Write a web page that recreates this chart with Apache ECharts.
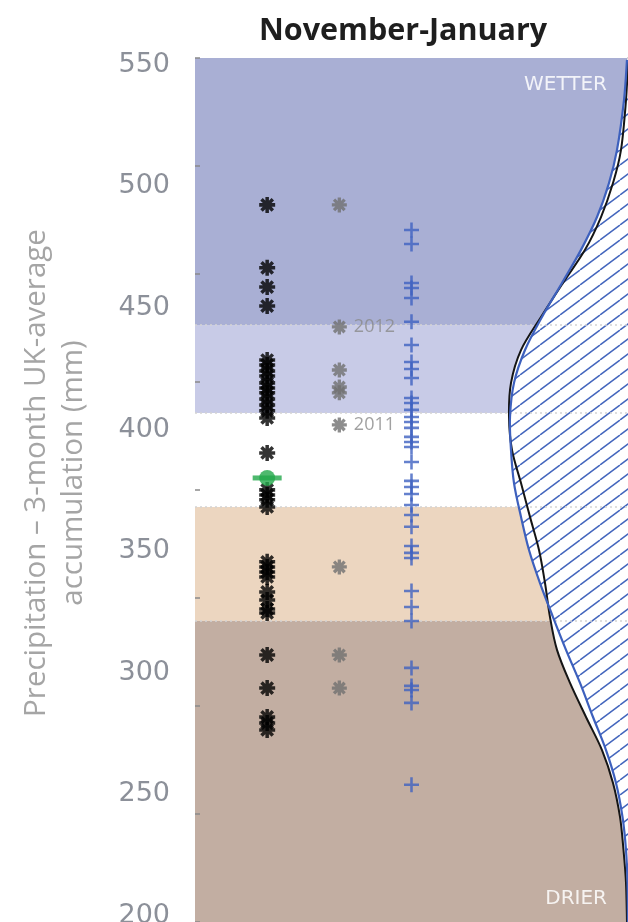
<!DOCTYPE html>
<html><head><meta charset="utf-8">
<script src="https://cdn.jsdelivr.net/npm/echarts@6/dist/echarts.min.js"></script>
<style>html,body{margin:0;padding:0;background:#fff}#c{width:628px;height:922px}</style>
</head><body><div id="c"></div>
<script>
const chartTitle = 'November-January';
const yAxisName = 'Precipitation – 3-month UK-average\naccumulation (mm)';
const columns = ['', 'Observed', 'Recent', 'Projected', '', '', ''];
const yTickLabels = [200, 250, 300, 350, 400, 450, 500, 550];
const yMin = 197.5, yMax = 552.8;
const bandEdges = [443.0, 406.8, 368.2, 321.3];
const bandLabels = ['WETTER', '', '', '', 'DRIER'];

const observed = [492.4, 466.5, 458.6, 450.8, 428.6, 426.6, 424.1, 422.0, 419.2, 417.1, 415.1, 412.6, 410.1, 407.7, 404.8, 390.4, 375.2, 373.1, 371.1, 368.2, 345.6, 343.5, 341.4, 339.4, 333.2, 329.9, 326.2, 324.6, 307.3, 293.7, 281.8, 279.3, 276.5];
const recent = [492.4, 442.2, 424.5, 417.5, 415.1, 401.9, 343.5, 307.3, 293.7];
const recentYears = ['', '2012', '', '', '', '2011', '', '', ''];
const projected = [482.1, 476.3, 460.3, 458.2, 454.1, 444.3, 434.8, 427.8, 424.9, 421.2, 413.0, 410.9, 408.1, 405.2, 403.1, 400.7, 397.0, 394.9, 392.8, 386.7, 378.9, 376.4, 373.5, 369.0, 364.9, 360.0, 352.1, 349.3, 347.2, 333.6, 327.0, 321.3, 302.0, 294.6, 292.9, 287.6, 253.9];
const current = [380.1];

const curveMm = [552.0, 535.5, 515.0, 501.4, 487.4, 473.9, 460.3, 446.3, 432.7, 419.2, 405.2, 391.6, 378.0, 364.1, 350.5, 336.9, 322.9, 309.4, 295.8, 281.8, 268.2, 254.7, 240.7, 227.1, 213.6, 197.5];
const densityBlue = [0.01, 0.04, 0.11, 0.19, 0.31, 0.47, 0.66, 0.86, 1.03, 1.14, 1.18, 1.17, 1.14, 1.07, 0.99, 0.88, 0.75, 0.62, 0.48, 0.35, 0.22, 0.12, 0.055, 0.02, 0.005, 0.0];
const densityBlack = [0.0, 0.02, 0.07, 0.15, 0.27, 0.43, 0.65, 0.87, 1.07, 1.17, 1.19, 1.16, 1.07, 0.98, 0.89, 0.83, 0.78, 0.71, 0.58, 0.42, 0.26, 0.15, 0.08, 0.045, 0.02, 0.01];

// ---- styling helpers ----
function barRect(angleDeg, len, wid) {
  const a = angleDeg * Math.PI / 180, c = Math.cos(a), s = Math.sin(a);
  const hl = len / 2, hw = wid / 2;
  const pts = [[-hl, -hw], [hl, -hw], [hl, hw], [-hl, hw]].map(p => [p[0] * c - p[1] * s, p[0] * s + p[1] * c]);
  return 'M' + pts.map(p => p[0].toFixed(3) + ',' + p[1].toFixed(3)).join(' L') + ' Z';
}
const asteriskPath = 'path://' + [0, 45, 90, 135].map(a => barRect(a, 1, 0.22)).join(' ');
const plusPath = 'path://' + [0, 90].map(a => barRect(a, 1, 0.17)).join(' ');

const hatch = document.createElement('canvas');
hatch.width = 20; hatch.height = 15;
(function () {
  const g = hatch.getContext('2d');
  g.strokeStyle = '#4466bd'; g.lineWidth = 1.5;
  [-20, 0, 20].forEach(dx => { g.beginPath(); g.moveTo(dx, 15); g.lineTo(dx + 20, 0); g.stroke(); });
})();

function smoothPath(pts) {
  let d = 'M' + pts[0][0] + ',' + pts[0][1];
  for (let i = 0; i < pts.length - 1; i++) {
    const p0 = pts[Math.max(0, i - 1)], p1 = pts[i], p2 = pts[i + 1], p3 = pts[Math.min(pts.length - 1, i + 2)];
    const c1 = [p1[0] + (p2[0] - p0[0]) / 6, p1[1] + (p2[1] - p0[1]) / 6];
    const c2 = [p2[0] - (p3[0] - p1[0]) / 6, p2[1] - (p3[1] - p1[1]) / 6];
    d += ' C' + c1[0] + ',' + c1[1] + ' ' + c2[0] + ',' + c2[1] + ' ' + p2[0] + ',' + p2[1];
  }
  return d;
}
function curvePixels(api, dens) { return curveMm.map((m, i) => api.coord([dens[i], m])); }
function areaPath(api, dens) {
  const pts = curvePixels(api, dens);
  const top = api.coord([0, yMax]), bot = api.coord([0, yMin]);
  return 'M' + top[0] + ',' + top[1] + ' L' + pts[0][0] + ',' + pts[0][1] + smoothPath(pts).replace(/^M[^ ]+/, '') +
    ' L' + bot[0] + ',' + bot[1] + ' Z';
}

const bandColors = ['#a9afd4', '#c8cbe7', '#ffffff', '#ecd6c0', '#c2aea2'];
const allEdges = [yMax].concat(bandEdges, [yMin]);
const bands = bandColors.map((col, i) => {
  const lab = bandLabels[i];
  const top = i === 0;
  return [{
    yAxis: allEdges[i], itemStyle: { color: col },
    label: lab ? {
      show: true, formatter: lab, position: top ? 'insideTopRight' : 'insideBottomRight',
      distance: 0, padding: top ? [17, 21, 0, 0] : [0, 21, 13, 0],
      color: 'rgba(255,255,255,0.85)', fontSize: 20, fontFamily: 'DejaVu Sans'
    } : { show: false }
  }, { yAxis: allEdges[i + 1] }];
});

const chart = echarts.init(document.getElementById('c'), null, { renderer: 'canvas' });
chart.setOption({
  animation: false,
  title: { text: chartTitle, left: 254, top: 11, textStyle: { fontFamily: 'Open Sans', fontWeight: 'bold', fontSize: 30.5, color: '#1e1e1e' } },
  grid: { left: 195, right: 0, top: 58, bottom: 0, containLabel: false, outerBoundsMode: 'none' },
  xAxis: [
    { type: 'category', data: columns, boundaryGap: false, show: false },
    { type: 'value', min: 0, max: 4.33, inverse: true, show: false, position: 'top' }
  ],
  yAxis: [
    {
      type: 'value', min: yMin, max: yMax, splitNumber: 7, position: 'left',
      axisLine: { show: true, lineStyle: { color: '#c6c6c6', width: 2 } },
      axisTick: { show: false }, splitLine: { show: false },
      axisLabel: {
        margin: 25, color: '#8c9099', fontSize: 27, fontFamily: 'DejaVu Sans',
        formatter: v => yTickLabels.indexOf(Math.round(v * 100) / 100) >= 0 ? String(v) : ''
      },
      name: yAxisName, nameLocation: 'middle', nameGap: 103,
      nameTextStyle: { fontFamily: 'Open Sans', fontSize: 29.5, color: '#a5a5a5', lineHeight: 37, align: 'center', padding: [0, 0, 0, 34] }
    },
    {
      type: 'value', min: 0, max: 8, interval: 1, position: 'left',
      axisLine: { show: false }, axisLabel: { show: false }, splitLine: { show: false },
      axisTick: { show: true, inside: true, length: 5, lineStyle: { color: '#8a8a8a', width: 1.5 } }
    }
  ],
  series: [
    {
      type: 'line', data: [], xAxisIndex: 0, yAxisIndex: 0, silent: true,
      markArea: { z: 0, silent: true, data: bands }
    },
    {
      type: 'custom', xAxisIndex: 1, yAxisIndex: 0, z: 2, silent: true, data: [[0, yMin]],
      renderItem: (params, api) => ({
        type: 'group', children: [
          { type: 'path', shape: { pathData: areaPath(api, densityBlack) }, style: { fill: '#ffffff', stroke: null } },
          { type: 'path', shape: { pathData: areaPath(api, densityBlue) }, style: { fill: '#ffffff', stroke: null } },
          { type: 'path', shape: { pathData: areaPath(api, densityBlue) }, style: { fill: { type: 'pattern', image: hatch, repeat: 'repeat' }, stroke: null } }
        ]
      })
    },
    {
      type: 'line', data: [], xAxisIndex: 0, yAxisIndex: 0, silent: true,
      markLine: {
        z: 2.5, silent: true, symbol: ['none', 'none'], label: { show: false },
        lineStyle: { type: [2, 3], color: '#d4d4d4', width: 1.5 },
        data: bandEdges.map(v => ({ yAxis: v }))
      }
    },
    {
      type: 'custom', xAxisIndex: 1, yAxisIndex: 0, z: 3, silent: true, data: [[0, yMin]],
      renderItem: (params, api) => ({
        type: 'group', children: [
          { type: 'path', shape: { pathData: smoothPath(curvePixels(api, densityBlack)) }, style: { fill: 'none', stroke: '#151515', lineWidth: 2 } },
          { type: 'path', shape: { pathData: smoothPath(curvePixels(api, densityBlue)) }, style: { fill: 'none', stroke: '#3d60bd', lineWidth: 2.2 } }
        ]
      })
    },
    {
      name: 'Observed', type: 'scatter', z: 5, xAxisIndex: 0, yAxisIndex: 0,
      symbol: asteriskPath, symbolSize: 16, itemStyle: { color: '#000' },
      data: observed.map(v => ['Observed', v])
    },
    {
      name: 'Recent', type: 'scatter', z: 5, xAxisIndex: 0, yAxisIndex: 0,
      symbol: asteriskPath, symbolSize: 15, itemStyle: { color: '#707070' },
      label: {
        show: true, position: 'right', distance: 7, color: '#8a8a8a', fontSize: 18, fontFamily: 'Open Sans',
        formatter: p => recentYears[p.dataIndex]
      },
      data: recent.map(v => ['Recent', v])
    },
    {
      name: 'Projected', type: 'scatter', z: 5, xAxisIndex: 0, yAxisIndex: 0,
      symbol: plusPath, symbolSize: 15, itemStyle: { color: '#3e62c0' },
      data: projected.map(v => ['Projected', v])
    },
    {
      name: 'Current', type: 'scatter', z: 6, xAxisIndex: 0, yAxisIndex: 0,
      symbol: 'rect', symbolSize: [29, 5], itemStyle: { color: '#22a84a' },
      data: current.map(v => ['Observed', v])
    },
    {
      name: 'CurrentDot', type: 'scatter', z: 6, xAxisIndex: 0, yAxisIndex: 0,
      symbol: 'circle', symbolSize: 16, itemStyle: { color: '#22a84a' },
      data: current.map(v => ['Observed', v])
    }
  ]
});
</script></body></html>
